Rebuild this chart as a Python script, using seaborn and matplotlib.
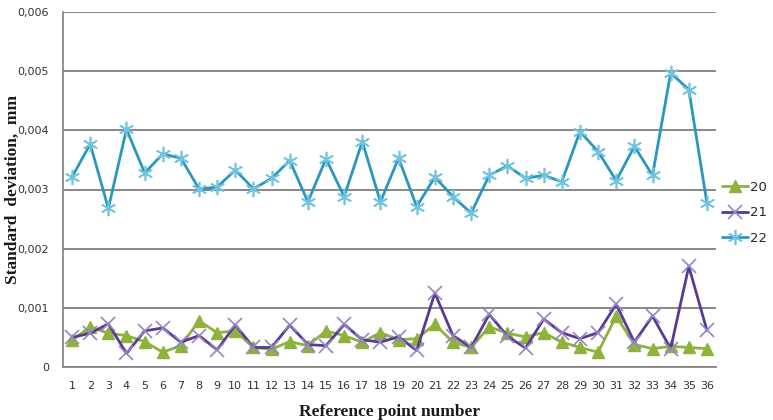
import matplotlib
matplotlib.use("Agg")
import matplotlib.pyplot as plt
import seaborn as sns
import pandas as pd
import numpy as np

points = list(range(1, 37))
s20 = [0.45, 0.68, 0.57, 0.53, 0.43, 0.25, 0.36, 0.78, 0.58, 0.61,
       0.33, 0.30, 0.43, 0.36, 0.61, 0.53, 0.42, 0.58, 0.46, 0.48,
       0.72, 0.42, 0.33, 0.68, 0.57, 0.51, 0.58, 0.42, 0.33, 0.25,
       0.86, 0.38, 0.31, 0.35, 0.33, 0.31]
s21 = [0.50, 0.57, 0.73, 0.23, 0.61, 0.66, 0.42, 0.53, 0.29, 0.71,
       0.33, 0.33, 0.71, 0.38, 0.36, 0.72, 0.46, 0.42, 0.51, 0.28,
       1.25, 0.53, 0.33, 0.89, 0.52, 0.32, 0.81, 0.58, 0.48, 0.58,
       1.06, 0.42, 0.86, 0.31, 1.70, 0.62]
s22 = [3.21, 3.77, 2.68, 4.02, 3.28, 3.60, 3.53, 3.01, 3.04, 3.33,
       3.01, 3.19, 3.49, 2.79, 3.52, 2.88, 3.81, 2.79, 3.53, 2.71,
       3.21, 2.88, 2.60, 3.24, 3.40, 3.19, 3.24, 3.13, 3.98, 3.64,
       3.15, 3.73, 3.24, 4.97, 4.69, 2.77]
series_names = ["20", "21", "22"]
yticks = [0, 0.001, 0.002, 0.003, 0.004, 0.005, 0.006]
ytick_labels = ["0", "0,001", "0,002", "0,003", "0,004", "0,005", "0,006"]

df = pd.DataFrame({
    "point": points * 3,
    "value": [v / 1000 for v in s20 + s21 + s22],
    "series": [series_names[0]] * 36 + [series_names[1]] * 36 + [series_names[2]] * 36,
})

sns.set_style("white")
fig = plt.figure(figsize=(7.73, 4.2), dpi=100)
ax = fig.add_axes([63 / 773, 1 - 367 / 420, (716 - 63) / 773, (367 - 12) / 420])

styles = {
    "20": dict(color="#8DB33C", marker="^", ms=8, mfc="#8DB33C", mec="#8DB33C", mew=1.0),
    "21": dict(color="#5A3A94", marker="x", ms=10, mfc="#9587C4", mec="#9587C4", mew=1.2),
    "22": dict(color="#2A98BE", marker=(6, 2, 0), ms=11, mfc="#72C4DE", mec="#72C4DE", mew=1.2),
}
for name in series_names:
    st = styles[name]
    sub = df[df["series"] == name]
    sns.lineplot(data=sub, x="point", y="value", ax=ax, color=st["color"],
                 marker=st["marker"], markersize=st["ms"],
                 markerfacecolor=st["mfc"], markeredgecolor=st["mec"],
                 markeredgewidth=st["mew"], linewidth=2.0, label=name,
                 legend=False, zorder=3)

ax.set_xlim(0.5, 36.5)
ax.set_ylim(0, 0.006)
ax.set_yticks(yticks)
ax.set_yticklabels(ytick_labels)
ax.set_xticks(points)
ax.set_xticklabels([str(p) for p in points])
ax.set_xticks(np.arange(0.5, 37, 1), minor=True)
ax.tick_params(axis="x", which="major", length=0, labelsize=8, pad=10, colors="#333333")
ax.tick_params(axis="x", which="minor", length=5, width=1, color="#808080", direction="out")
ax.tick_params(axis="y", which="major", length=6, width=1, color="#808080", direction="out",
               labelsize=8, colors="#333333", pad=4)
for lab in ax.get_xticklabels() + ax.get_yticklabels():
    lab.set_color("#333333")

ax.yaxis.grid(True, color="#7f7f7f", linewidth=1.3, zorder=0)
ax.xaxis.grid(False)
for side in ["top", "right"]:
    ax.spines[side].set_visible(False)
for side in ["left", "bottom"]:
    ax.spines[side].set_color("#808080")
    ax.spines[side].set_linewidth(1.2)

ax.set_xlabel("Reference point number", family="Liberation Serif", fontweight="bold",
              fontsize=12.5, color="#1a1a1a", labelpad=4)
ax.set_ylabel("Standard  deviation,  mm", family="Liberation Serif", fontweight="bold",
              fontsize=12.5, color="#1a1a1a", labelpad=6)
ax.xaxis.set_label_coords(0.5, -0.105)
ax.yaxis.set_label_coords(-0.065, 0.5)

handles, labels = ax.get_legend_handles_labels()
fig.legend(handles, labels, loc="upper left", bbox_to_anchor=(719 / 773, 1 - 178 / 420),
           frameon=False, fontsize=9.5, handlelength=2.0, handletextpad=0.15,
           labelspacing=0.95, borderaxespad=0, borderpad=0.2)

fig.savefig("out.png", dpi=100)
